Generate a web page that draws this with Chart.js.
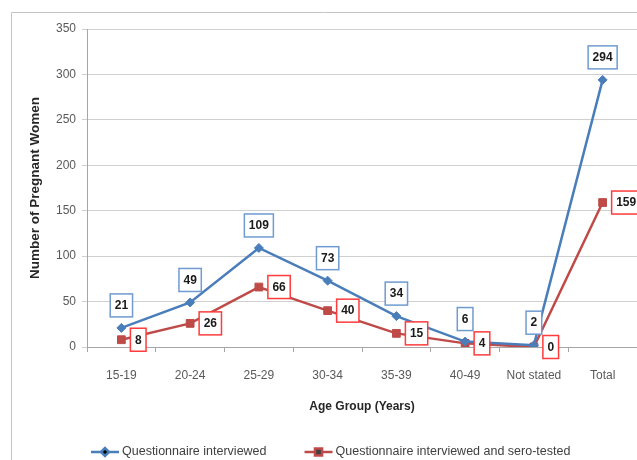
<!DOCTYPE html>
<html>
<head>
<meta charset="utf-8">
<script src="https://cdn.jsdelivr.net/npm/chart.js@4"></script>
<style>
  html, body { margin: 0; padding: 0; background: #fff; }
  canvas { display: block; }
</style>
</head>
<body>
<canvas id="chart" width="637" height="460"></canvas>
<script>
// values
const ageGroups = ["15-19", "20-24", "25-29", "30-34", "35-39", "40-49", "Not stated", "Total"];
const interviewed = [21, 49, 109, 73, 34, 6, 2, 294];
const seroTested = [8, 26, 66, 40, 15, 4, 0, 159];
const seriesNames = ["Questionnaire interviewed", "Questionnaire interviewed and sero-tested"];
const yMax = 350;
const yStep = 50;

const colors = {
  blue: "#4a7ebb",
  blueBox: "#6f9bd1",
  red: "#be4b48",
  redBox: "#ff3b3b",
  grid: "#d0d0d0",
  axis: "#a6a6a6",
  tick: "#595959",
  title: "#262626",
};

const FONT = "'Liberation Sans', Arial, sans-serif";

// outer frame of the original spreadsheet chart (partly cropped)
const framePlugin = {
  id: "frame",
  beforeDraw(chart) {
    const ctx = chart.ctx;
    ctx.save();
    ctx.fillStyle = "#fff";
    ctx.fillRect(0, 0, chart.width, chart.height);
    ctx.strokeStyle = "#c4c4c4";
    ctx.lineWidth = 1;
    ctx.beginPath();
    ctx.moveTo(11.5, chart.height);
    ctx.lineTo(11.5, 12.5);
    ctx.lineTo(chart.width, 12.5);
    ctx.stroke();
    ctx.restore();
  },
};

// boxed value labels: blue above the point, red to the right
const boxLabels = {
  id: "boxLabels",
  afterDatasetsDraw(chart) {
    const ctx = chart.ctx;
    ctx.save();
    ctx.font = "bold 12px " + FONT;
    ctx.textAlign = "center";
    ctx.textBaseline = "middle";
    chart.data.datasets.forEach((ds, di) => {
      const meta = chart.getDatasetMeta(di);
      meta.data.forEach((pt, i) => {
        const txt = String(ds.data[i]);
        const w = ctx.measureText(txt).width + 9;
        const h = 23;
        let bx, by;
        if (di === 0) {
          bx = pt.x - w / 2;
          by = pt.y - 11 - h;
        } else {
          bx = pt.x + 9;
          by = pt.y - h / 2;
        }
        ctx.fillStyle = "#fff";
        ctx.fillRect(bx, by, w, h);
        ctx.strokeStyle = di === 0 ? colors.blueBox : colors.redBox;
        ctx.lineWidth = 1.5;
        ctx.strokeRect(bx, by, w, h);
        ctx.fillStyle = "#1a1a1a";
        ctx.fillText(txt, bx + w / 2, by + h / 2 + 0.5);
      });
    });
    ctx.restore();
  },
};

// Excel-style legend: line with marker, then the series name
const lineLegend = {
  id: "lineLegend",
  afterDraw(chart) {
    const ctx = chart.ctx;
    const y = 452;
    let x = 91;
    ctx.save();
    ctx.font = "12.5px " + FONT;
    ctx.textBaseline = "middle";
    ctx.textAlign = "left";
    chart.data.datasets.forEach((ds, di) => {
      ctx.strokeStyle = ds.borderColor;
      ctx.lineWidth = 2.5;
      ctx.beginPath();
      ctx.moveTo(x, y);
      ctx.lineTo(x + 28, y);
      ctx.stroke();
      Chart.helpers.drawPoint(ctx, {
        pointStyle: ds.pointStyle,
        radius: di === 0 ? 4 : 5,
        borderWidth: 1,
      }, x + 14, y);
      ctx.fillStyle = "#404040";
      ctx.fillText(ds.label, x + 31, y);
      x += 31 + ctx.measureText(ds.label).width + 38;
    });
    ctx.restore();
  },
};

new Chart(document.getElementById("chart"), {
  type: "line",
  data: {
    labels: ageGroups,
    datasets: [
      {
        label: seriesNames[0],
        data: interviewed,
        borderColor: colors.blue,
        backgroundColor: colors.blue,
        borderWidth: 2.5,
        pointStyle: "rectRot",
        pointRadius: 4.5,
        pointBorderWidth: 1,
        tension: 0,
      },
      {
        label: seriesNames[1],
        data: seroTested,
        borderColor: colors.red,
        backgroundColor: colors.red,
        borderWidth: 2.5,
        pointStyle: "rect",
        pointRadius: 5.5,
        pointBorderWidth: 1,
        tension: 0,
      },
    ],
  },
  options: {
    responsive: false,
    devicePixelRatio: 1,
    animation: false,
    layout: { autoPadding: false, padding: { left: 25, right: 0, top: 29, bottom: 20 } },
    plugins: {
      legend: { display: false },
      tooltip: { enabled: false },
    },
    scales: {
      x: {
        offset: true,
        afterFit: (s) => { s.height = 93; s.paddingLeft = 0; s.paddingRight = 0; },
        grid: {
          offset: true,
          drawOnChartArea: false,
          drawTicks: true,
          tickLength: 5,
          color: colors.axis,
        },
        border: { color: colors.axis, width: 1 },
        ticks: { color: colors.tick, font: { family: FONT, size: 12 }, padding: 16, maxRotation: 0, autoSkip: false },
        title: {
          display: true,
          text: "Age Group (Years)",
          color: colors.title,
          font: { family: FONT, size: 12, weight: "bold" },
          padding: { top: 0, bottom: 26 },
        },
      },
      y: {
        min: 0,
        max: yMax,
        afterFit: (s) => { s.width = 62; },
        ticks: { stepSize: yStep, color: colors.tick, font: { family: FONT, size: 12 }, padding: 6 },
        grid: { color: colors.grid, lineWidth: 1, tickLength: 5 },
        border: { color: colors.axis, width: 1 },
        title: {
          display: true,
          text: "Number of Pregnant Women",
          color: colors.title,
          font: { family: FONT, size: 13.5, weight: "bold" },
          padding: { top: 2, bottom: 0 },
        },
      },
    },
  },
  plugins: [framePlugin, boxLabels, lineLegend],
});
</script>
</body>
</html>
